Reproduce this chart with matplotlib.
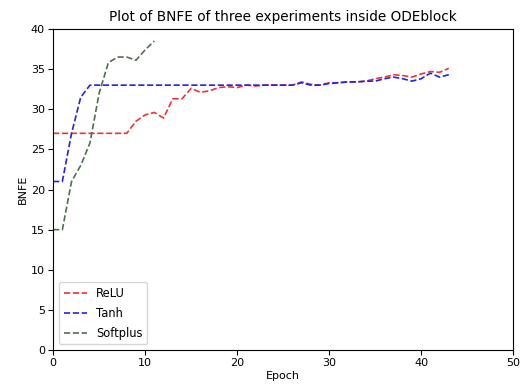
import matplotlib
matplotlib.use("Agg")
import matplotlib.pyplot as plt

epochs_long = list(range(44))
relu = [27, 27, 27, 27, 27, 27, 27, 27, 27, 28.5, 29.3, 29.6, 28.9, 31.3, 31.3, 32.6,
        32.1, 32.3, 32.7, 32.8, 32.7, 33.0, 32.9, 33.0, 33.0, 33.0, 33.0, 33.4, 33.1, 33.0,
        33.3, 33.3, 33.4, 33.4, 33.5, 33.8, 34.0, 34.3, 34.2, 34.0, 34.4, 34.7, 34.6, 35.1]
tanh = [21, 21, 27, 31.5, 33, 33, 33, 33, 33, 33, 33, 33, 33, 33, 33, 33,
        33, 33, 33, 33, 33, 33, 33, 33, 33, 33, 33, 33.3, 33.0, 33.0,
        33.2, 33.3, 33.4, 33.4, 33.5, 33.5, 33.8, 34.0, 33.8, 33.5, 33.8, 34.5, 34.0, 34.3]
epochs_short = list(range(12))
softplus = [15, 15, 21, 23, 25.8, 32, 35.8, 36.5, 36.5, 36.1, 37.4, 38.5]

plt.rcParams['font.size'] = 8
fig = plt.figure(figsize=(5.21, 3.86), dpi=100)
ax = fig.add_axes([0.102, 0.093, 0.883, 0.832])
ax.plot(epochs_long, relu, '--', color='#ee3333', lw=1.2, label='ReLU')
ax.plot(epochs_long, tanh, '--', color='#2222ee', lw=1.2, label='Tanh')
ax.plot(epochs_short, softplus, '--', color='#4f6f4f', lw=1.2, label='Softplus')
ax.set_xlim(0, 50)
ax.set_ylim(0, 40)
ax.tick_params(pad=2.5)
ax.set_title('Plot of BNFE of three experiments inside ODEblock', fontsize=9.8)
ax.set_xlabel('Epoch', labelpad=2)
ax.set_ylabel('BNFE', labelpad=2)
ax.legend(loc='lower left', fontsize=8.3, labelspacing=0.6)
fig.savefig('out.png', dpi=100)
